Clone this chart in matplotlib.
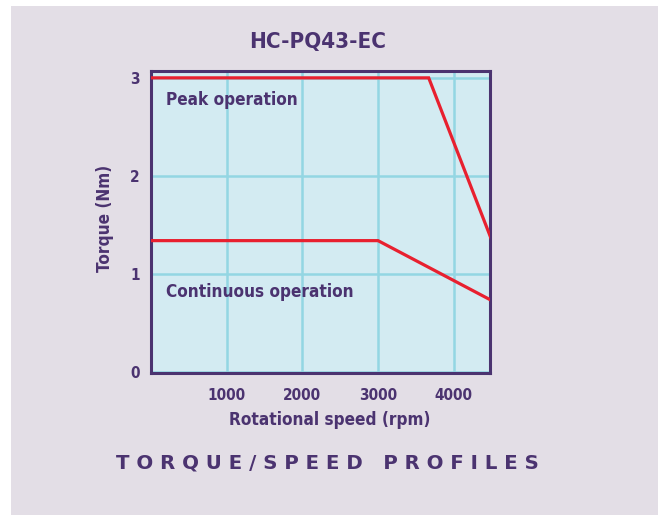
import matplotlib
matplotlib.use("Agg")
import matplotlib.pyplot as plt
from matplotlib.patches import Rectangle

# torque/speed curves
peak_rpm = [0, 3670, 4500]
peak_torque = [3.0, 3.0, 1.35]
cont_rpm = [0, 3000, 4500]
cont_torque = [1.34, 1.34, 0.73]

x_ticks = [1000, 2000, 3000, 4000]
y_ticks = [0, 1, 2, 3]

purple = "#4B3370"
red = "#E8202F"
FONT = ["DejaVu Sans"]
COND = dict(family=FONT, fontweight="bold", fontstretch="condensed")

fig = plt.figure(figsize=(6.58, 5.15), dpi=100, facecolor="white")
fig.patches.append(Rectangle((11 / 658, 0), 1, 1 - 6 / 515, transform=fig.transFigure,
                             facecolor="#E3DEE6", edgecolor="none", zorder=-10))

ax = fig.add_axes([151 / 658, 1 - 373 / 515, (490 - 151) / 658, (373 - 71) / 515])
ax.set_facecolor("#D3EBF2")
ax.set_xlim(0, 4480)
ax.set_ylim(-0.01, 3.07)

ax.plot(peak_rpm, peak_torque, color=red, lw=2.3, solid_joinstyle="miter", zorder=3)
ax.plot(cont_rpm, cont_torque, color=red, lw=2.3, solid_joinstyle="miter", zorder=3)

ax.set_xticks(x_ticks)
ax.set_yticks(y_ticks)
ax.grid(True, color="#93D6E3", lw=1.8)
ax.set_axisbelow(True)
ax.tick_params(length=0, labelsize=11, labelcolor=purple)
ax.tick_params(axis="x", pad=11)
ax.tick_params(axis="y", pad=8)
for lab in ax.get_xticklabels() + ax.get_yticklabels():
    lab.set_family(FONT)
    lab.set_fontweight("bold")
    lab.set_fontstretch("condensed")
for sp in ax.spines.values():
    sp.set_color(purple)
    sp.set_linewidth(2.2)

ax.text(200, 2.77, "Peak operation", color=purple, fontsize=12.3, va="center", ha="left", **COND)
ax.text(200, 0.82, "Continuous operation", color=purple, fontsize=12.3, va="center", ha="left",
        **COND)

fig.text(318 / 658, 1 - 42 / 515, "HC-PQ43-EC", color=purple, fontsize=16,
         ha="center", va="center", **COND)
fig.text(330 / 658, 1 - 420 / 515, "Rotational speed (rpm)", color=purple, fontsize=12.3,
         ha="center", va="center", **COND)
fig.text(105 / 658, 1 - 218 / 515, "Torque (Nm)", color=purple, fontsize=12.3, rotation=90,
         ha="center", va="center", **COND)
fig.text(327 / 658, 1 - 463 / 515, "T O R Q U E / S P E E D   P R O F I L E S", color=purple,
         fontsize=14.2, fontweight="heavy", family="DejaVu Sans", ha="center", va="center")

fig.savefig("out.png", dpi=100, facecolor=fig.get_facecolor())
